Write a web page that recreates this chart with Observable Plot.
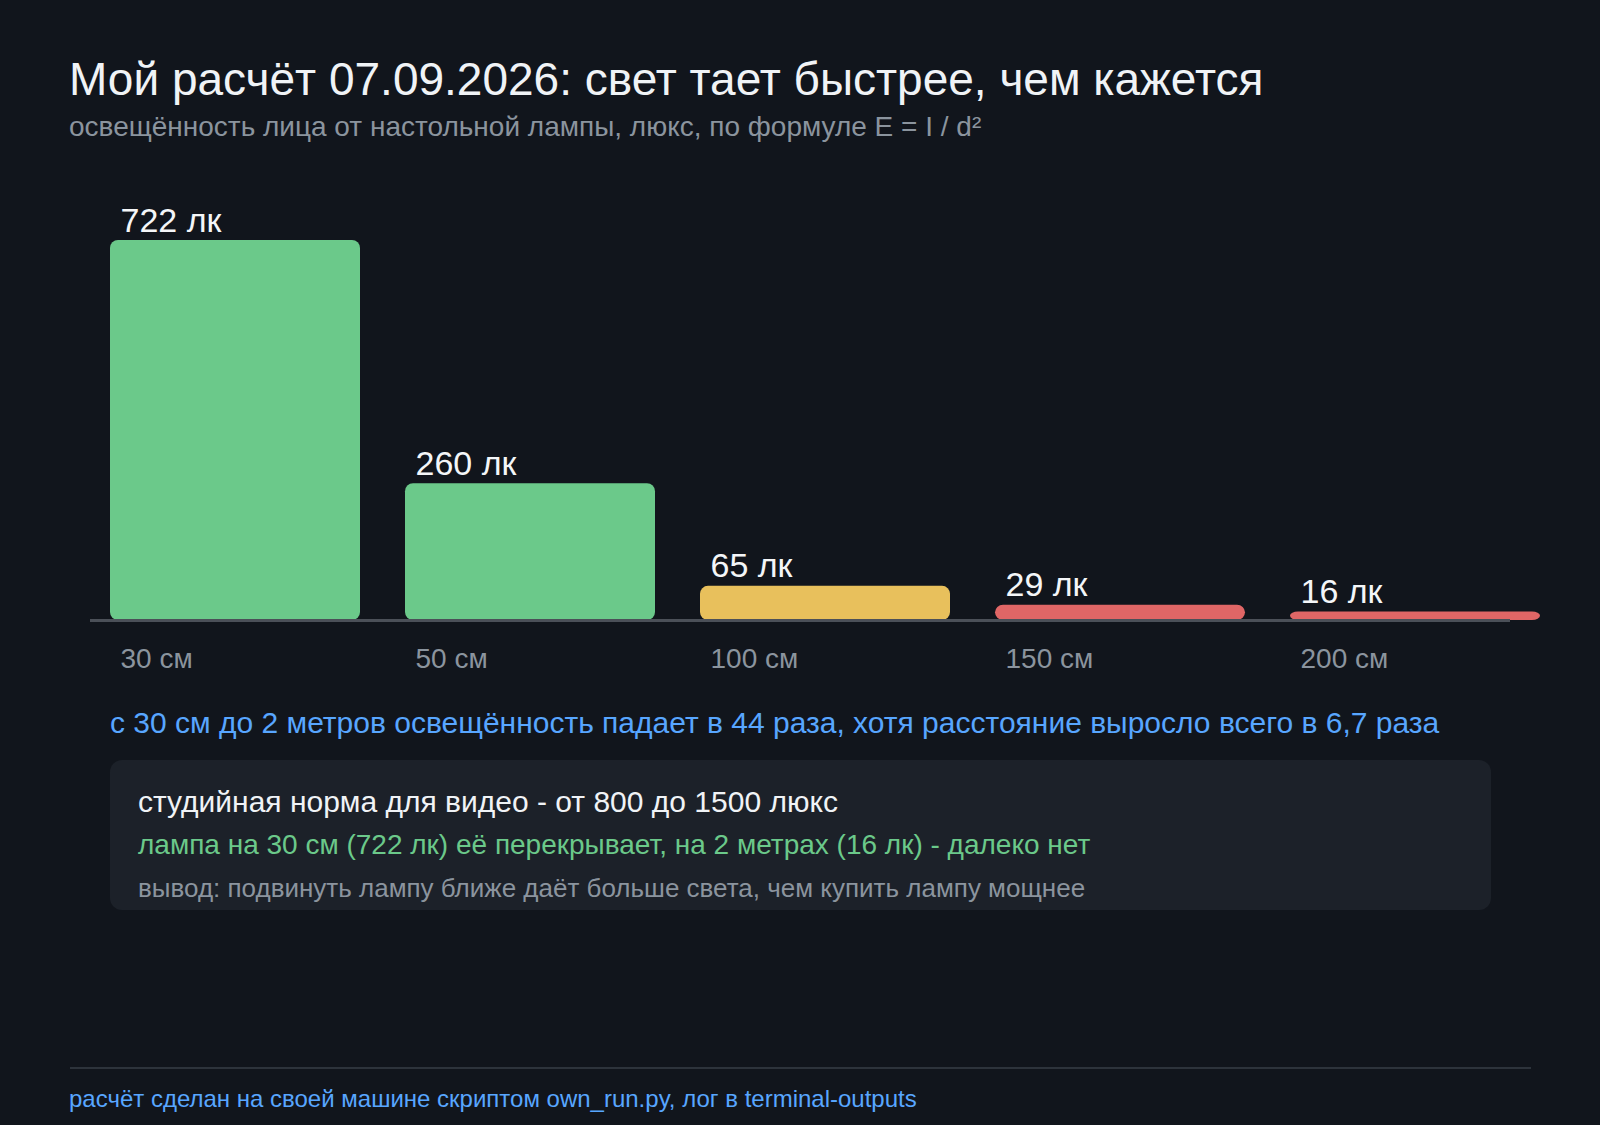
<!DOCTYPE html>
<html>
<head>
<meta charset="utf-8">
<script src="https://cdn.jsdelivr.net/npm/d3@7"></script>
<script src="https://cdn.jsdelivr.net/npm/@observablehq/plot@0.6"></script>
<style>
  html, body { margin: 0; padding: 0; background: #11151c; }
  body { width: 1600px; height: 1125px; position: relative; overflow: hidden;
         font-family: "Liberation Sans", Arial, sans-serif; }
  .t { position: absolute; line-height: 1; white-space: nowrap; }
  #chart { position: absolute; left: 0; top: 180px; }
  #box { position: absolute; left: 110px; top: 760px; width: 1381px; height: 150px;
         background: #1c2129; border-radius: 12px; }
  #rule { position: absolute; left: 70px; top: 1067px; width: 1461px; height: 2px; background: #2d333b; }
</style>
</head>
<body>
<div class="t" id="title" style="left:69px; top:56px; font-size:46px; color:#f0f3f6;"></div>
<div class="t" id="subtitle" style="left:69px; top:113px; font-size:28px; color:#8b949e;"></div>
<div id="chart"></div>
<div class="t" id="note" style="left:110px; top:708px; font-size:30px; color:#58a6ff;"></div>
<div id="box"></div>
<div class="t" id="b1" style="left:138px; top:787px; font-size:30px; color:#f0f3f6;"></div>
<div class="t" id="b2" style="left:138px; top:831px; font-size:28px; color:#6bc98a;"></div>
<div class="t" id="b3" style="left:138px; top:875px; font-size:26px; color:#8b949e;"></div>
<div id="rule"></div>
<div class="t" id="footer" style="left:69px; top:1087px; font-size:24px; color:#58a6ff;"></div>
<script>
const titleText = "Мой расчёт 07.09.2026: свет тает быстрее, чем кажется";
const subtitleText = "освещённость лица от настольной лампы, люкс, по формуле E = I / d²";
const distances = ["30 см", "50 см", "100 см", "150 см", "200 см"];
const lux = [722, 260, 65, 29, 16];
const levels = ["ok", "ok", "mid", "low", "low"];
const levelNames = ["ok", "mid", "low"];
const levelColors = ["#6bc98a", "#e8c05c", "#e06666"];
const noteText = "с 30 см до 2 метров освещённость падает в 44 раза, хотя расстояние выросло всего в 6,7 раза";
const boxLines = [
  "студийная норма для видео - от 800 до 1500 люкс",
  "лампа на 30 см (722 лк) её перекрывает, на 2 метрах (16 лк) - далеко нет",
  "вывод: подвинуть лампу ближе даёт больше света, чем купить лампу мощнее"
];
const footerText = "расчёт сделан на своей машине скриптом own_run.py, лог в terminal-outputs";

document.getElementById("title").textContent = titleText;
document.getElementById("subtitle").textContent = subtitleText;
document.getElementById("note").textContent = noteText;
document.getElementById("b1").textContent = boxLines[0];
document.getElementById("b2").textContent = boxLines[1];
document.getElementById("b3").textContent = boxLines[2];
document.getElementById("footer").textContent = footerText;

const data = distances.map((d, i) => ({dist: d, lux: lux[i], level: levels[i]}));

const chart = Plot.plot({
  width: 1600,
  height: 500,
  marginLeft: 90,
  marginRight: 90,
  marginTop: 60,
  marginBottom: 60,
  style: {background: "transparent", fontFamily: "'Liberation Sans', Arial, sans-serif"},
  x: {domain: distances, range: [110, 1540], paddingInner: 45 / 295, paddingOuter: 0, axis: null},
  y: {axis: null},
  color: {domain: levelNames, range: levelColors},
  marks: [
    Plot.barY(data, {x: "dist", y: "lux", fill: "level", rx: 8}),
    Plot.ruleY([0], {stroke: "#4b5058", strokeWidth: 3}),
    Plot.text(data, {x: "dist", y: "lux", text: d => `${d.lux} лк`, textAnchor: "start",
      lineAnchor: "bottom", dx: -115, dy: -9, fontSize: 34, fill: "#f4f6f8"}),
    Plot.axisX({tickSize: 0, tickPadding: 28, textAnchor: "start", dx: -115, fontSize: 28,
      fill: "#8b949e", label: null})
  ]
});
document.getElementById("chart").appendChild(chart);
</script>
</body>
</html>
